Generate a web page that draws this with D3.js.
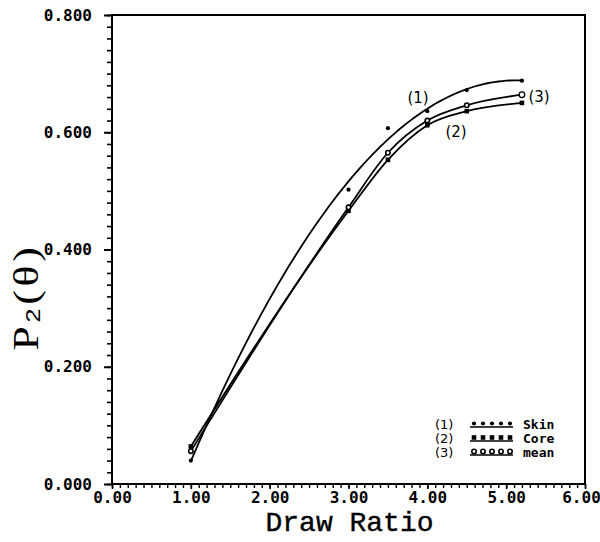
<!DOCTYPE html>
<html><head><meta charset="utf-8">
<script src="https://cdn.jsdelivr.net/npm/d3@7"></script>
<style>html,body{margin:0;padding:0;background:#fff;}svg{display:block;}</style>
</head><body><svg id="chart" width="600" height="542"></svg>
<script>
// ---- data ----
const drawRatio = [1.0, 3.0, 3.5, 4.0, 4.5, 5.2];
const skin = [0.040, 0.502, 0.607, 0.636, 0.672, 0.688];
const core = [0.064, 0.466, 0.553, 0.612, 0.636, 0.650];
const mean = [0.056, 0.472, 0.565, 0.620, 0.646, 0.664];
const xTickLabels = ["0.00","1.00","2.00","3.00","4.00","5.00","6.00"];
const yTickLabels = ["0.000","0.200","0.400","0.600","0.800"];
const seriesNames = ["Skin","Core","mean"];
const seriesTags = ["(1)","(2)","(3)"];

const svg = d3.select("#chart");
const L = 112, R = 585, T = 15, B = 484;
const x = d3.scaleLinear().domain([0, 6]).range([L, R]);
const y = d3.scaleLinear().domain([0, 0.8]).range([B, T]);

// frame
svg.append("rect").attr("x", L).attr("y", T).attr("width", R - L).attr("height", B - T)
  .attr("fill", "none").attr("stroke", "#000").attr("stroke-width", 2);

// y axis: major + minor ticks
const yAxis = svg.append("g").attr("transform", `translate(${L},0)`)
  .call(d3.axisLeft(y).tickValues(d3.range(0, 0.8001, 0.02)).tickSize(5).tickFormat(""));
yAxis.select(".domain").remove();
yAxis.selectAll("line").attr("stroke-width", 1.6);
const yMaj = svg.append("g").attr("transform", `translate(${L},0)`)
  .call(d3.axisLeft(y).tickValues(yTickLabels.map(Number)).tickSize(8).tickPadding(12)
    .tickFormat((d, i) => yTickLabels[i]));
yMaj.select(".domain").remove();
yMaj.selectAll("line").attr("stroke-width", 2);
yMaj.selectAll("text").attr("font-family", "DejaVu Sans Mono").attr("font-weight", "bold")
  .attr("font-size", 16).attr("fill", "#000");

// x axis
const xAxis = svg.append("g").attr("transform", `translate(0,${B})`)
  .call(d3.axisBottom(x).tickValues(d3.range(0, 6.001, 0.1)).tickSize(4).tickFormat(""));
xAxis.select(".domain").remove();
xAxis.selectAll("line").attr("stroke-width", 1.4);
const xMaj = svg.append("g").attr("transform", `translate(0,${B})`)
  .call(d3.axisBottom(x).tickValues(xTickLabels.map(Number)).tickSize(5).tickPadding(3)
    .tickFormat((d, i) => xTickLabels[i]));
xMaj.select(".domain").remove();
xMaj.selectAll("line").attr("stroke-width", 1.6);
xMaj.selectAll("text").attr("font-family", "DejaVu Sans Mono").attr("font-weight", "bold")
  .attr("font-size", 16).attr("fill", "#000")
  .attr("dx", (d, i) => i === xTickLabels.length - 1 ? -4 : 0);

// axis titles
svg.append("text").attr("x", (L + R) / 2 + 1).attr("y", 531).attr("text-anchor", "middle")
  .attr("font-family", "Liberation Mono").attr("font-size", 28).attr("fill", "#000")
  .attr("stroke", "#000").attr("stroke-width", 0.4)
  .text("Draw Ratio");
const yt = svg.append("text").attr("transform", "translate(38,297) rotate(-90) scale(1.25,1)")
  .attr("text-anchor", "middle").attr("font-family", "Liberation Serif")
  .attr("font-size", 35).attr("letter-spacing", 3).attr("fill", "#000");
yt.append("tspan").text("P");
yt.append("tspan").attr("font-size", 20).attr("dy", 2).attr("font-family", "Liberation Sans").text("2");
yt.append("tspan").attr("dy", -2).text("(θ)");

// least-squares polynomial trend (for the skin curve)
function polyfit(xs, ys, deg) {
  const n = deg + 1;
  const A = Array.from({length: n}, () => new Array(n + 1).fill(0));
  xs.forEach((xv, k) => {
    for (let i = 0; i < n; i++) {
      for (let j = 0; j < n; j++) A[i][j] += Math.pow(xv, i + j);
      A[i][n] += ys[k] * Math.pow(xv, i);
    }
  });
  for (let i = 0; i < n; i++) {
    let p = i;
    for (let r = i + 1; r < n; r++) if (Math.abs(A[r][i]) > Math.abs(A[p][i])) p = r;
    [A[i], A[p]] = [A[p], A[i]];
    for (let r = 0; r < n; r++) if (r !== i) {
      const f = A[r][i] / A[i][i];
      for (let c = i; c <= n; c++) A[r][c] -= f * A[i][c];
    }
  }
  const coef = A.map((row, i) => row[n] / row[i]);
  return xv => coef.reduce((s, c, i) => s + c * Math.pow(xv, i), 0);
}

const line = d3.line().x(d => x(d[0])).y(d => y(d[1]));
const skinFit = polyfit(drawRatio, skin, 2);
const xs = d3.range(drawRatio[0], drawRatio[drawRatio.length - 1] + 1e-9, 0.05);
svg.append("path").datum(xs.map(v => [v, skinFit(v)])).attr("d", line)
  .attr("fill", "none").attr("stroke", "#000").attr("stroke-width", 1.8);
const mono = d3.line().x(d => x(d[0])).y(d => y(d[1])).curve(d3.curveMonotoneX);
[core, mean].forEach(s => {
  svg.append("path").datum(drawRatio.map((v, i) => [v, s[i]])).attr("d", mono)
    .attr("fill", "none").attr("stroke", "#000").attr("stroke-width", 1.8);
});

// markers
function marker(g, type, cx, cy, big) {
  if (type === 0) g.append("circle").attr("cx", cx).attr("cy", cy).attr("r", 2.1).attr("fill", "#000");
  else if (type === 1) g.append("rect").attr("x", cx - 2.3).attr("y", cy - 2.3).attr("width", 4.6).attr("height", 4.6).attr("fill", "#000");
  else g.append("circle").attr("cx", cx).attr("cy", cy).attr("r", big ? 2.8 : 2.2).attr("fill", "#fff").attr("stroke", "#000").attr("stroke-width", big ? 1.3 : 1.6);
}
const mk = svg.append("g");
[skin, core, mean].forEach((s, t) => s.forEach((v, i) => marker(mk, t, x(drawRatio[i]), y(v), i === s.length - 1)));

// curve tags
[[418, 103, 0], [456, 137, 1], [539, 102, 2]].forEach(([tx, ty, i]) => {
  svg.append("text").attr("x", tx).attr("y", ty).attr("text-anchor", "middle")
    .attr("font-family", "DejaVu Sans").attr("font-size", 15)
    .attr("fill", "#000").text(seriesTags[i]);
});

// legend
const rowsY = [424, 438, 452];
seriesNames.forEach((name, i) => {
  const ry = rowsY[i];
  svg.append("text").attr("x", 435).attr("y", ry + 5).attr("font-family", "DejaVu Sans")
    .attr("font-size", 13).attr("fill", "#000").text(seriesTags[i]);
  svg.append("line").attr("x1", 470).attr("x2", 513).attr("y1", ry + 3).attr("y2", ry + 3)
    .attr("stroke", "#000").attr("stroke-width", 1.6);
  d3.range(5).forEach(k => marker(svg, i, 474 + k * 9, ry - 0.5, false));
  svg.append("text").attr("x", 523).attr("y", ry + 5).attr("font-family", "DejaVu Sans Mono")
    .attr("font-weight", "bold").attr("font-size", 13).attr("fill", "#000").text(name);
});
</script></body></html>
